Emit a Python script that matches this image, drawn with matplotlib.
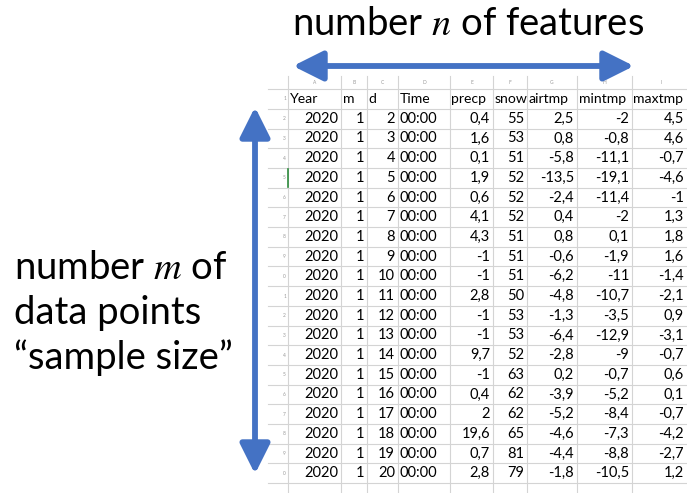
import matplotlib
matplotlib.use("Agg")
import matplotlib.pyplot as plt

# ---- data ----
headers = ["Year", "m", "d", "Time", "precp", "snow", "airtmp", "mintmp", "maxtmp"]
col_letters = ["A", "B", "C", "D", "E", "F", "G", "H", "I"]
year = [2020] * 19
month = [1] * 19
day = list(range(2, 21))
time_str = ["00:00"] * 19
precp = [0.4, 1.6, 0.1, 1.9, 0.6, 4.1, 4.3, -1, -1, 2.8, -1, -1, 9.7, -1, 0.4, 2, 19.6, 0.7, 2.8]
snow = [55, 53, 51, 52, 52, 52, 51, 51, 51, 50, 53, 53, 52, 63, 62, 62, 65, 81, 79]
airtmp = [2.5, 0.8, -5.8, -13.5, -2.4, 0.4, 0.8, -0.6, -6.2, -4.8, -1.3, -6.4, -2.8, 0.2, -3.9, -5.2, -4.6, -4.4, -1.8]
mintmp = [-2, -0.8, -11.1, -19.1, -11.4, -2, 0.1, -1.9, -11, -10.7, -3.5, -12.9, -9, -0.7, -5.2, -8.4, -7.3, -8.8, -10.5]
maxtmp = [4.5, 4.6, -0.7, -4.6, -1, 1.3, 1.8, 1.6, -1.4, -2.1, 0.9, -3.1, -0.7, 0.6, 0.1, -0.7, -4.2, -2.7, 1.2]

title_top = "number $n$ of features"
left_lines = ["number $m$ of", "data points", "\u201csample size\u201d"]

# ---- layout ----
W, H = 687, 493
col_edges = [288, 341, 367, 398, 450, 493, 527, 577, 632, 700]
rowhdr_left = 268
letter_top, letter_bot = 76, 89
row_h = 19.7
first_center = 99
blue = "#4472C4"
grid = "#d4d4d4"

fig = plt.figure(figsize=(W / 100, H / 100), dpi=100)
ax = fig.add_axes([0, 0, 1, 1])
ax.set_xlim(0, W)
ax.set_ylim(H, 0)
ax.axis("off")

font = "Lato"

def fmt(v):
    if isinstance(v, float):
        s = f"{v:g}"
    else:
        s = str(v)
    return s.replace(".", ",")

nrows = len(day) + 1  # header + data
# horizontal grid lines
edges_y = [letter_top, letter_bot] + [first_center - row_h / 2 + (i + 1) * row_h for i in range(nrows + 1)]
for yv in edges_y[1:]:
    ax.plot([rowhdr_left, W], [yv, yv], color=grid, lw=0.8, zorder=1)
# vertical grid lines
for xv in col_edges[:-1]:
    ax.plot([xv, xv], [letter_top, H], color=grid, lw=0.8, zorder=1)

# column letters
for j, L in enumerate(col_letters):
    xc = (col_edges[j] + col_edges[j + 1]) / 2 if j < 8 else (col_edges[j] + 687) / 2 + 2
    ax.text(xc, (letter_top + letter_bot) / 2, L, fontsize=3.5, color="#999999",
            ha="center", va="center", family=font)

# row numbers (cropped to last digit)
for i in range(nrows):
    yc = first_center + i * row_h
    ax.text(286, yc, str((i + 1) % 10), fontsize=3.5, color="#999999",
            ha="right", va="center", family=font)

# header row
for j, h in enumerate(headers):
    ax.text(col_edges[j] + 1.5, first_center, h, fontsize=10.1, ha="left", va="center",
            family=font, color="#000000")

cols = [year, month, day, time_str, precp, snow, airtmp, mintmp, maxtmp]
for i in range(len(day)):
    yc = first_center + (i + 1) * row_h
    for j, col in enumerate(cols):
        v = col[i]
        if j == 3:
            ax.text(col_edges[j] + 2, yc, v, fontsize=10.5, ha="left", va="center",
                    family=font, color="#000000")
        else:
            xr = col_edges[j + 1] - 3 if j < 8 else 684
            ax.text(xr, yc, fmt(v), fontsize=10.5, ha="right", va="center",
                    family=font, color="#000000")

# green cell cursor mark
yc5 = first_center + 4 * row_h
ax.plot([288, 288], [yc5 - 9, yc5 + 9], color="#2e8b3d", lw=1.2, zorder=3)

# arrows
ap = dict(arrowstyle="<|-|>,head_length=1.3,head_width=0.65", lw=4.2, color=blue,
          shrinkA=0, shrinkB=0, mutation_scale=14)
ax.annotate("", xy=(293, 66), xytext=(634, 66), arrowprops=ap)
ax.annotate("", xy=(255, 107), xytext=(255, 474), arrowprops=ap)

# texts
ax.text(468, 24, title_top, fontsize=27.5, ha="center", va="center", family=font,
        math_fontfamily="stix")
for k, line in enumerate(left_lines):
    ax.text(14, 268 + k * 45, line, fontsize=27.5, ha="left", va="center", family=font,
            math_fontfamily="stix")

fig.savefig("out.png", dpi=100)
